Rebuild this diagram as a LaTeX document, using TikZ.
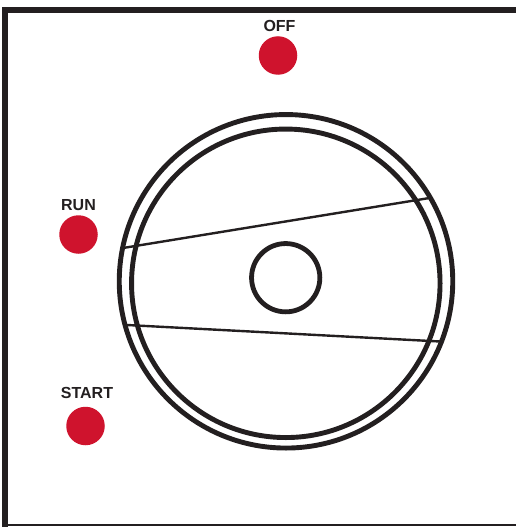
\documentclass[tikz,border=0pt]{standalone}
\usepackage{fontspec}
\setmainfont{Liberation Sans}
\definecolor{ink}{HTML}{231F20}
\definecolor{lamp}{HTML}{CF132D}
\begin{document}
\begin{tikzpicture}[x=1pt,y=-1pt,
  lampdot/.style={circle,fill=lamp,draw=none,inner sep=0pt,minimum size=38.5pt},
  lamplabel/.style={text=ink,font=\bfseries\fontsize{16}{16}\selectfont,inner sep=0pt,anchor=center},
  ring/.style={circle,draw=ink,fill=none,inner sep=0pt,line width=#1},
  sector/.style={draw=ink,line width=2.4pt}]
\useasboundingbox (0,0) rectangle (516,527);
% panel frame
\fill[ink] (2.2,7.2) rectangle (516,13.3);
\fill[ink] (2.2,7.2) rectangle (8.2,527);
\fill[ink] (8,524) rectangle (516,526.2);
% dial
\node[ring=4.9pt,minimum size=333.5pt] (outer) at (286,281.3) {};
\node[ring=4.9pt,minimum size=308.5pt] (inner) at (285.8,283.3) {};
\node[ring=4.8pt,minimum size=68.3pt] (hub) at (285.7,277.7) {};
\coordinate (a1) at (123,248);
\coordinate (a2) at (429.5,198);
\coordinate (b1) at (127,325);
\coordinate (b2) at (440,341.5);
\draw[sector] (a1) -- (a2);
\draw[sector] (b1) -- (b2);
% lamps
\node[lampdot] (off) at (278,55.5) {};
\node[lampdot] (run) at (78.5,234.5) {};
\node[lampdot] (start) at (85.5,426) {};
\node[lamplabel] (offl) at (279.5,26) {OFF};
\node[lamplabel] (runl) at (78.5,205) {RUN};
\node[lamplabel] (startl) at (87,392.5) {START};
\end{tikzpicture}
\end{document}
